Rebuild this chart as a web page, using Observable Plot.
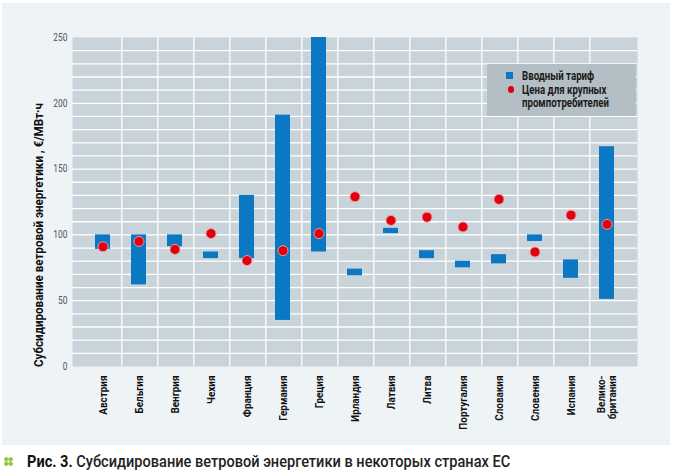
<!DOCTYPE html>
<html><head><meta charset="utf-8">
<script src="https://cdn.jsdelivr.net/npm/d3@7"></script>
<script src="https://cdn.jsdelivr.net/npm/@observablehq/plot@0.6"></script>
<style>
  body { margin:0; background:#fff; width:674px; height:476px; overflow:hidden; position:relative;
         font-family:"Roboto","Liberation Sans",sans-serif; }
  #panel { position:absolute; left:2px; top:3px; width:668px; height:442px; background:#eef3f6; }
  #panel svg { display:block; background:transparent; }
  #panel svg [aria-label="y-axis tick label"] text { fill:#555; }
  #panel svg [aria-label="y-axis label"] text { font-weight:bold; font-size:12.5px; fill:#111; }
  #panel svg [aria-label="x-axis tick label"] text { font-weight:bold; fill:#111; }
  #legend { position:absolute; left:487px; top:64px; width:149px; height:52px; background:#b4bec5;
            font-weight:bold; font-size:12.5px; color:#1a1a1a; }
  #legend .txt { position:absolute; left:35px; top:5px; line-height:13.5px; white-space:pre; transform-origin:0 0; }
  .sw { position:absolute; }
  #caption { position:absolute; left:4px; top:452px; font-size:16.5px; color:#111; white-space:nowrap; }
  #caption .dots { display:inline-block; width:9px; height:9px; margin-right:14px; vertical-align:1px;
    background: radial-gradient(circle, #8cc63f 1.8px, transparent 2.3px) 0 0 / 4.5px 4.5px; }
  #caption .txt { display:inline-block; transform-origin:0 50%; }
  #caption b { font-weight:bold; }
  #caption .rest { font-weight:500; color:#222; }
</style></head>
<body>
<div id="panel"></div>
<div id="caption"><span class="dots"></span><span class="txt"><b>Рис. 3.</b> <span class="rest">Субсидирование ветровой энергетики в некоторых странах ЕС</span></span></div>
<script>
const countries = ["Австрия","Бельгия","Венгрия","Чехия","Франция","Германия","Греция","Ирландия","Латвия","Литва","Португалия","Словакия","Словения","Испания","Велико-\nбритания"];
const tariffLow  = [89, 62, 91, 82, 82, 35, 87, 69, 101, 82, 75, 78, 95, 67, 51];
const tariffHigh = [100, 100, 100, 87, 130, 191, 250, 74, 105, 88, 80, 85, 100, 81, 167];
const industryPrice = [91, 95, 89, 101, 80.5, 88, 101, 129, 111, 113.5, 106, 127, 87, 115, 108];
const yTicks = [0, 50, 100, 150, 200, 250];
const gridValues = d3.range(10, 250, 10);
const legendLabels = ["Вводный тариф", "Цена для крупных\nпромпотребителей"];

const BAR = "#0a78c2", DOT = "#e1000f";
const data = countries.map((c, i) => ({c, lo: tariffLow[i], hi: tariffHigh[i], p: industryPrice[i]}));

const W = 668, H = 442, ml = 70, mr = 33, mt = 34, mb = 79;
const step = (W - ml - mr) / countries.length;

const chart = Plot.plot({
  width: W, height: H,
  marginLeft: ml, marginRight: mr, marginTop: mt, marginBottom: mb,
  style: {fontFamily: 'Roboto, "Liberation Sans", sans-serif', fontSize: "11px", background: "transparent"},
  x: {domain: countries, padding: 0.57, label: null},
  y: {domain: [0, 250], label: null},
  marks: [
    Plot.frame({fill: "#c9d3da", stroke: null}),
    Plot.ruleY(gridValues, {stroke: "#fff", strokeWidth: 1.3}),
    Plot.ruleX(countries.slice(0, -1), {x: d => d, dx: step / 2, stroke: "#fff", strokeWidth: 1.3}),
    Plot.axisY({ticks: yTicks, tickSize: 0, tickPadding: 5, fontSize: 10.5,
      label: "Субсидирование ветровой энергетики , €/МВт·ч", labelAnchor: "center", labelOffset: 38, labelArrow: "none"}),
    Plot.axisX({tickSize: 0, tickPadding: 9, tickRotate: -90, fontSize: 11, label: null, lineHeight: 1.0}),
    Plot.barY(data, {x: "c", y1: "lo", y2: "hi", fill: BAR}),
    Plot.dot(data, {x: "c", y: "p", r: 5, fill: DOT, stroke: "#f19a9a", strokeWidth: 1})
  ]
});
document.getElementById("panel").appendChild(chart);

function condense(t, k) {
  const spans = t.querySelectorAll("tspan");
  const list = spans.length ? spans : [t];
  list.forEach(s => { const w = s.getComputedTextLength(); s.setAttribute("textLength", (w * k).toFixed(1)); s.setAttribute("lengthAdjust", "spacingAndGlyphs"); });
}
// condense the y-axis label to the reference's length and shift it toward the bottom
const yl = chart.querySelector('[aria-label="y-axis label"] text');
if (yl) {
  yl.setAttribute("textLength", 264); yl.setAttribute("lengthAdjust", "spacingAndGlyphs");
  yl.setAttribute("dx", -33);
}
chart.querySelectorAll('[aria-label="x-axis tick label"] text').forEach(t => condense(t, 0.9));
chart.querySelectorAll('[aria-label="y-axis tick label"] text').forEach(t => condense(t, 0.8));

// legend
const lg = document.createElement("div");
lg.id = "legend";
lg.innerHTML =
  `<div class="sw" style="left:19px;top:8px;width:6.5px;height:6.5px;background:${BAR}"></div>` +
  `<div class="sw" style="left:20.5px;top:22px;width:6.5px;height:6.5px;border-radius:50%;background:${DOT}"></div>` +
  `<div class="txt">${legendLabels.join("\n")}</div>`;
document.body.appendChild(lg);
const lt = lg.querySelector(".txt");
lt.style.transform = `scaleX(${(87 / lt.getBoundingClientRect().width).toFixed(3)})`;

// caption condensed to reference width
const ct = document.querySelector("#caption .txt");
ct.style.transform = `scaleX(${(483 / ct.getBoundingClientRect().width).toFixed(3)})`;
</script>
</body></html>
